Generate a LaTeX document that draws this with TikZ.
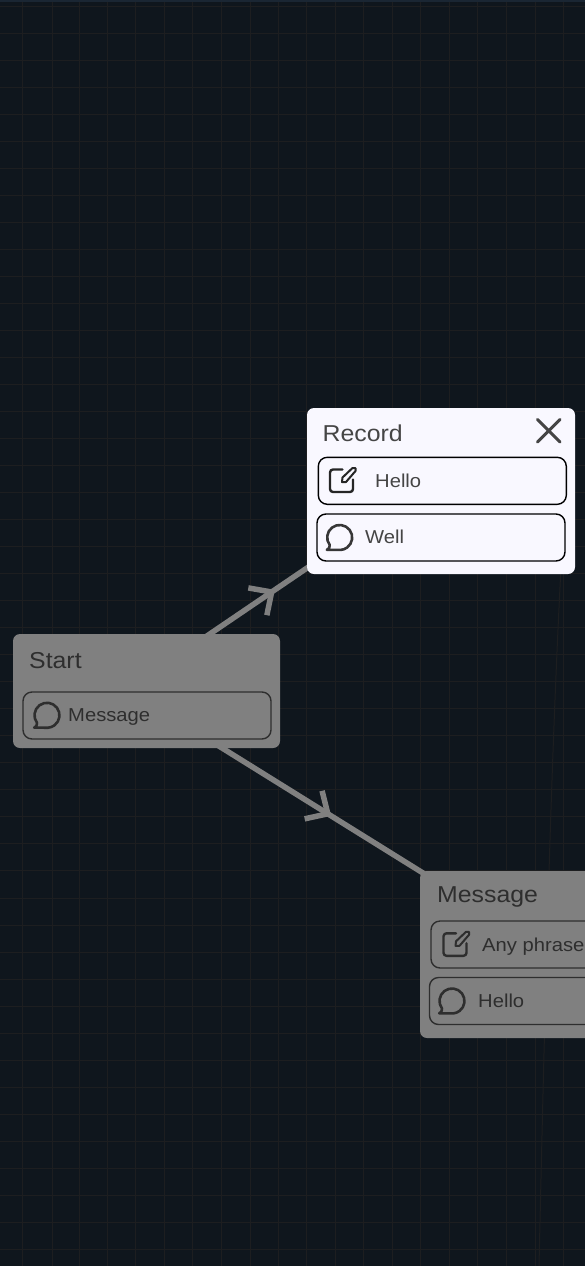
\documentclass[tikz,border=0pt]{standalone}
\usepackage{fontspec}
\setmainfont[FakeStretch=1.08]{Liberation Sans}
\usetikzlibrary{decorations.markings}
\pgfdeclarelayer{back}
\pgfsetlayers{back,main}
\definecolor{pagebg}{HTML}{0F161D}
\definecolor{gridc}{HTML}{1D1E20}
\definecolor{topc}{HTML}{1A2633}
\definecolor{dimbox}{HTML}{808080}
\definecolor{litebox}{HTML}{F9F8FF}
\definecolor{dimtext}{HTML}{2E2E2E}
\definecolor{litetext}{HTML}{454545}
\tikzset{
  x=1pt,y=1pt,
  card/.style={rounded corners=7pt,minimum width=268pt,minimum height=#1,inner sep=0pt,outer sep=0pt},
  litecard/.style={card=#1,fill=litebox},
  dimcard/.style={card=#1,fill=dimbox},
  rowbox/.style={rounded corners=9pt,minimum width=248pt,minimum height=47pt,inner sep=0pt,draw=#1,line width=1.4pt},
  title/.style={anchor=base west,inner sep=0pt,font=\fontsize{23}{28}\selectfont,text=#1},
  rowtext/.style={anchor=base west,inner sep=0pt,font=\fontsize{18.7}{22}\selectfont,text=#1},
  gridline/.style={draw=gridc,line width=1pt},
  conn/.style={draw=dimbox,line width=5.5pt},
  barb/.style={draw=dimbox,line width=5.5pt,line cap=butt,line join=miter},
  midbarb/.style={postaction={decorate,decoration={markings,mark=at position #1 with {\draw[barb] (-17pt,16.5pt) -- (0pt,0pt) -- (-17pt,-16.5pt);}}}},
  pics/speech/.style={code={
    \draw[line width=2.6pt,#1,line join=round,line cap=round]
      (-10,-7.5) arc[start angle=217,end angle=-85,radius=12.5]
      -- (-12.8,-12.3) .. controls (-10.5,-11) .. (-10,-7.5);
  }},
  pics/edit/.style={code={
    \draw[line width=2.4pt,#1,line join=round,line cap=round,rounded corners=3pt]
      (1,11) -- (-11.5,11) -- (-11.5,-11.5) -- (11.5,-11.5) -- (11.5,1);
    \draw[line width=2pt,#1,line join=round]
      (0.5,-1.5) -- (1,3) -- (11,12.5) -- (14,12.5) -- (14,9.5) -- (4.5,-1.5) -- cycle;
  }},
}
\begin{document}
\begin{tikzpicture}
\useasboundingbox (0,0) rectangle (585,-1266);
\clip (0,0) rectangle (585,-1266);
% cards
\node[litecard=166pt] (record) at (441,-491) {};
\node[dimcard=114pt,minimum width=267pt] (start) at (146.5,-691) {};
\node[dimcard=167pt] (message) at (554,-954.5) {};
% record card
\node[title=litetext] (recordtitle) at (322.5,-441) {Record};
\node[rowbox=black] (rowhello) at (442.3,-480.8) {};
\node[rowbox=black] (rowwell) at (441,-537.5) {};
\pic at (341.5,-480.5) {edit=black!85};
\pic at (339.7,-537.5) {speech=litetext!80!black};
\node[rowtext=litetext] (hellotext) at (375,-487) {Hello};
\node[rowtext=litetext] (welltext) at (365,-543.2) {Well};
\coordinate (xa) at (537.5,-419.5);
\coordinate (xb) at (560,-442);
\coordinate (xc) at (537.5,-442);
\coordinate (xd) at (560,-419.5);
\draw[line width=3pt,litetext,line cap=round] (xa) -- (xb) (xc) -- (xd);
% start card
\node[title=dimtext] (starttitle) at (29,-668.5) {Start};
\node[rowbox=dimtext] (rowmsg) at (147,-715.5) {};
\pic at (47,-715.3) {speech=dimtext};
\node[rowtext=dimtext] (msgtext) at (68,-721.5) {Message};
% message card
\node[title=dimtext] (messagetitle) at (437,-902.5) {Message};
\node[rowbox=dimtext] (rowany) at (555,-944.5) {};
\node[rowbox=dimtext] (rowhello2) at (553.5,-1001) {};
\pic at (455,-944.3) {edit=dimtext};
\pic at (452,-1001) {speech=dimtext};
\node[rowtext=dimtext] (anytext) at (482,-951) {Any phrase};
\node[rowtext=dimtext] (hello2text) at (478,-1007) {Hello};
\begin{pgfonlayer}{back}
\fill[pagebg] (0,0) rectangle (585,-1266);
\foreach \gy in {0,...,46} {\draw[gridline] (0,-6-27.03*\gy) -- (585,-6-27.03*\gy);}
\foreach \gx in {22,52,79,107.3,135.6,164,192.5,221.5,250,278.3,306.8,335,363.5,392,420.5,449,477.5,506.5,535,563.5} {\draw[gridline] (\gx,0) -- (\gx,-1266);}
\draw[draw=gridc,line width=1pt] (566,-480) .. controls (552,-700) and (545,-1000) .. (539,-1266);
\fill[topc] (0,0) rectangle (585,-2);
\draw[conn,midbarb=0.425] ([yshift=14pt]start.center) -- ([yshift=14pt]record.center);
\draw[conn,midbarb=0.445] ([yshift=-10pt]start.center) -- (message.center);
\end{pgfonlayer}
\end{tikzpicture}
\end{document}
